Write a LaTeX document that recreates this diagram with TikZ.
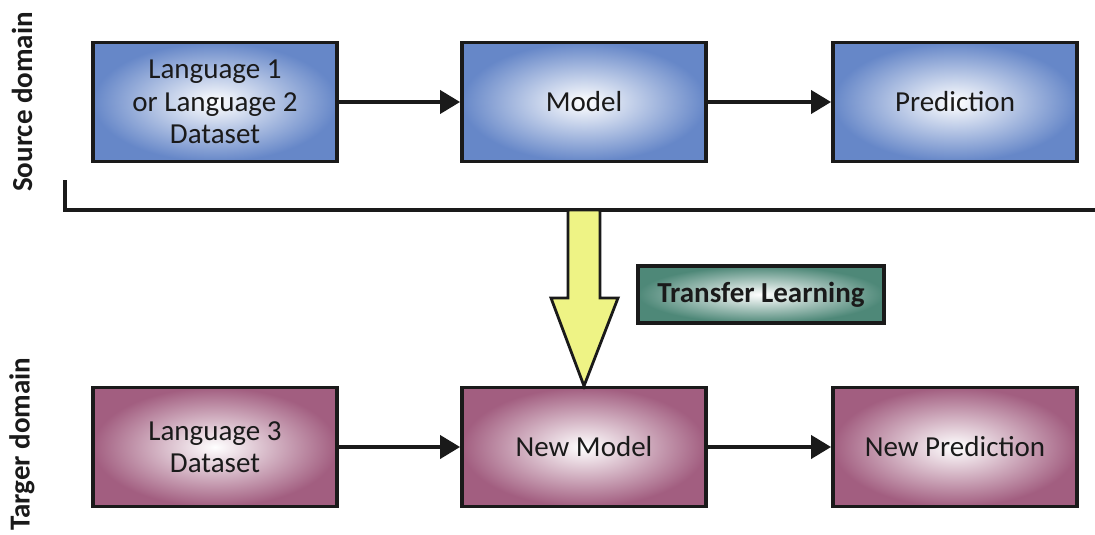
\documentclass[tikz,border=0pt]{standalone}
\usepackage{fontspec}
\setmainfont{Carlito}
\usepackage{tikz}
\usetikzlibrary{arrows.meta}
\definecolor{srcblue}{HTML}{6687C8}
\definecolor{tgtpink}{HTML}{A25E80}
\definecolor{tlgreen}{HTML}{4E8878}
\definecolor{arrowyel}{HTML}{EEF385}
\definecolor{ink}{HTML}{1A1A1A}
\tikzset{
  box/.style={draw=ink, line width=2.2pt, minimum width=4.88cm, minimum height=2.38cm,
    align=center, font=\fontsize{16.5}{18.5}\selectfont, text=ink},
  srcbox/.style={box, inner color=white, outer color=srcblue},
  tgtbox/.style={box, inner color=white, outer color=tgtpink},
  tlbox/.style={draw=ink, line width=2.2pt, minimum width=4.92cm, minimum height=1.14cm,
    inner color=white, outer color=tlgreen, font=\bfseries\fontsize{16.5}{18}\selectfont, text=ink},
  flow/.style={draw=ink, line width=2.2pt, -{Triangle[length=0.4cm, width=0.46cm]}},
  sidelab/.style={rotate=90, font=\bfseries\fontsize{16.5}{19}\selectfont, text=ink}
}

\begin{document}
\begin{tikzpicture}[x=0.02cm, y=-0.02cm]
  \useasboundingbox (0,0) rectangle (1095,534);

  % source domain
  \node[srcbox] (lang12) at (215,102) {Language 1\\or Language 2\\Dataset};
  \node[srcbox] (model) at (584,102) {Model};
  \node[srcbox] (pred) at (955,102) {Prediction};

  % target domain
  \node[tgtbox] (lang3) at (215,447) {Language 3\\Dataset};
  \node[tgtbox] (newmodel) at (584,447) {New Model};
  \node[tgtbox] (newpred) at (955,447) {New Prediction};

  \draw[flow] (lang12) -- (model);
  \draw[flow] (model) -- (pred);
  \draw[flow] (lang3) -- (newmodel);
  \draw[flow] (newmodel) -- (newpred);

  % divider
  \coordinate (divtop) at (65,180);
  \coordinate (divend) at (1095,210);
  \draw[ink, line width=2.2pt] (divtop) |- (divend);

  % transfer arrow
  \draw[ink, line width=1.6pt, fill=arrowyel]
    (568,210) -- (600,210) -- (600,298) -- (618,298) -- (584,386)
    -- (551,298) -- (568,298) -- cycle;
  \node[tlbox] (transfer) at (761,294.5) {Transfer Learning};

  \node[sidelab] (srclabel) at (22,102) {Source domain};
  \node[sidelab] (tgtlabel) at (22,444) {Targer domain};
\end{tikzpicture}
\end{document}
